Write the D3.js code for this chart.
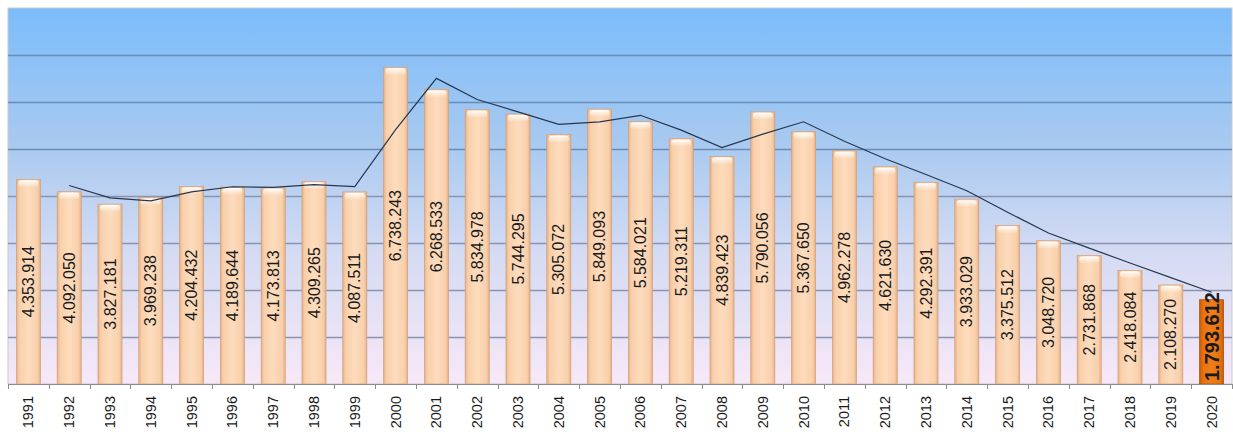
<!DOCTYPE html>
<html>
<head>
<meta charset="utf-8">
<script src="https://cdn.jsdelivr.net/npm/d3@7"></script>
<style>
  body { margin: 0; background: #fff; }
  svg { display: block; }
</style>
</head>
<body>
<script>
var width = 1233,
    height = 434;

var margin = {top: 8, right: 1, bottom: 50, left: 8};

// years on the x axis
var years = ["1991","1992","1993","1994","1995","1996","1997","1998","1999","2000",
             "2001","2002","2003","2004","2005","2006","2007","2008","2009","2010",
             "2011","2012","2013","2014","2015","2016","2017","2018","2019","2020"];

// bar values
var values = [4353914, 4092050, 3827181, 3969238, 4204432, 4189644, 4173813, 4309265, 4087511, 6738243,
              6268533, 5834978, 5744295, 5305072, 5849093, 5584021, 5219311, 4839423, 5790056, 5367650,
              4962278, 4621630, 4292391, 3933029, 3375512, 3048720, 2731868, 2418084, 2108270, 1793612];

// trend line (2-period moving average as drawn), starts at 1992
var trendYears = years.slice(1);
var trend = [4223000, 3960000, 3898000, 4087000, 4197000, 4182000, 4242000, 4198000, 5413000,
             6503000, 6052000, 5790000, 5525000, 5577000, 5717000, 5402000, 5029000, 5315000, 5579000,
             5165000, 4792000, 4457000, 4113000, 3654000, 3212000, 2890000, 2575000, 2263000, 1951000];

var gridTicks = [1000000, 2000000, 3000000, 4000000, 5000000, 6000000, 7000000];

var innerW = width - margin.left - margin.right,
    innerH = height - margin.top - margin.bottom;

var svg = d3.select("body").append("svg")
    .attr("width", width)
    .attr("height", height);

var defs = svg.append("defs");

var bg = defs.append("linearGradient").attr("id", "bg")
    .attr("x1", 0).attr("y1", 0).attr("x2", 0).attr("y2", 1);
bg.append("stop").attr("offset", "0%").attr("stop-color", "#7bbcfb");
bg.append("stop").attr("offset", "35%").attr("stop-color", "#a7c9f0");
bg.append("stop").attr("offset", "65%").attr("stop-color", "#d4dbf3");
bg.append("stop").attr("offset", "100%").attr("stop-color", "#f7e8f7");

var barGrad = defs.append("linearGradient").attr("id", "barGrad")
    .attr("x1", 0).attr("y1", 0).attr("x2", 1).attr("y2", 0);
barGrad.append("stop").attr("offset", "0%").attr("stop-color", "#e4b088");
barGrad.append("stop").attr("offset", "12%").attr("stop-color", "#f8cfaa");
barGrad.append("stop").attr("offset", "50%").attr("stop-color", "#fddcbd");
barGrad.append("stop").attr("offset", "88%").attr("stop-color", "#f8cfaa");
barGrad.append("stop").attr("offset", "100%").attr("stop-color", "#e4b088");

var hiGrad = defs.append("linearGradient").attr("id", "hiGrad")
    .attr("x1", 0).attr("y1", 0).attr("x2", 1).attr("y2", 0);
hiGrad.append("stop").attr("offset", "0%").attr("stop-color", "#c45a08");
hiGrad.append("stop").attr("offset", "15%").attr("stop-color", "#e8730f");
hiGrad.append("stop").attr("offset", "50%").attr("stop-color", "#ee7e1c");
hiGrad.append("stop").attr("offset", "85%").attr("stop-color", "#e8730f");
hiGrad.append("stop").attr("offset", "100%").attr("stop-color", "#c45a08");

var topGrad = defs.append("linearGradient").attr("id", "topGrad")
    .attr("x1", 0).attr("y1", 0).attr("x2", 0).attr("y2", 1);
topGrad.append("stop").attr("offset", "0%").attr("stop-color", "#ffffff").attr("stop-opacity", 0.95);
topGrad.append("stop").attr("offset", "100%").attr("stop-color", "#ffffff").attr("stop-opacity", 0);

var g = svg.append("g")
    .attr("transform", "translate(" + margin.left + "," + margin.top + ")");

var x = d3.scaleBand()
    .domain(years)
    .range([0, innerW])
    .paddingInner(0.41)
    .paddingOuter(0.205);

var y = d3.scaleLinear()
    .domain([0, 8000000])
    .range([innerH, 0]);

// plot background
g.append("rect")
    .attr("width", innerW)
    .attr("height", innerH)
    .attr("fill", "url(#bg)")
    .attr("stroke", "#c9c9c9");

// gridlines
g.append("g")
    .selectAll("line")
    .data(gridTicks)
    .enter().append("line")
    .attr("x1", 0)
    .attr("x2", innerW)
    .attr("y1", function(d) { return Math.round(y(d)) + 0.5; })
    .attr("y2", function(d) { return Math.round(y(d)) + 0.5; })
    .attr("stroke", function(d) { return d > 4500000 ? "#6a8cb6" : "#8a94b0"; })
    .attr("stroke-width", 1.3);

// bars
var bars = g.append("g").selectAll("g")
    .data(years)
    .enter().append("g");

bars.append("rect")
    .attr("x", function(d) { return x(d); })
    .attr("y", function(d, i) { return y(values[i]); })
    .attr("width", x.bandwidth())
    .attr("height", function(d, i) { return innerH - y(values[i]); })
    .attr("fill", function(d, i) { return i === years.length - 1 ? "url(#hiGrad)" : "url(#barGrad)"; })
    .attr("stroke", function(d, i) { return i === years.length - 1 ? "#a84d06" : "#d39f78"; })
    .attr("stroke-width", 0.7);

bars.filter(function(d, i) { return i !== years.length - 1; })
    .append("rect")
    .attr("x", function(d) { return x(d) + 2; })
    .attr("y", function(d) { return y(values[years.indexOf(d)]) + 1; })
    .attr("width", x.bandwidth() - 4)
    .attr("height", 7)
    .attr("rx", 3)
    .attr("fill", "url(#topGrad)");

// trend line
var line = d3.line()
    .x(function(d, i) { return x(trendYears[i]) + x.bandwidth() / 2; })
    .y(function(d) { return y(d); });

g.append("path")
    .datum(trend)
    .attr("fill", "none")
    .attr("stroke", "#26384f")
    .attr("stroke-width", 1.2)
    .attr("d", line);

// value labels
var fmt = function(v) { return d3.format(",")(v).replace(/,/g, "."); };

bars.append("text")
    .attr("transform", function(d, i) {
        var cx = x(d) + x.bandwidth() / 2;
        var last = i === years.length - 1;
        var cy = last ? innerH - 3 : (y(values[i]) + innerH) / 2;
        return "translate(" + cx + "," + cy + ") rotate(-90)";
    })
    .attr("dy", "0.35em")
    .attr("text-anchor", function(d, i) { return i === years.length - 1 ? "start" : "middle"; })
    .style("font-family", "'Liberation Sans', Arial, sans-serif")
    .style("font-size", function(d, i) { return i === years.length - 1 ? "20px" : "16px"; })
    .style("font-weight", function(d, i) { return i === years.length - 1 ? "bold" : "normal"; })
    .attr("fill", "#1a1a1a")
    .text(function(d, i) { return fmt(values[i]); });

// x axis
var xAxis = g.append("g")
    .attr("transform", "translate(0," + innerH + ")");

xAxis.append("line")
    .attr("x1", 0).attr("x2", innerW)
    .attr("y1", 0.5).attr("y2", 0.5)
    .attr("stroke", "#8c8c8c");

var step = x.step();
xAxis.selectAll(".tick")
    .data(d3.range(years.length + 1))
    .enter().append("line")
    .attr("x1", function(i) { return Math.round(i * step) + 0.5; })
    .attr("x2", function(i) { return Math.round(i * step) + 0.5; })
    .attr("y1", 0)
    .attr("y2", 5)
    .attr("stroke", "#8c8c8c");

xAxis.selectAll("text")
    .data(years)
    .enter().append("text")
    .attr("transform", function(d) {
        return "translate(" + (x(d) + x.bandwidth() / 2) + ",12) rotate(-90)";
    })
    .attr("dy", "0.35em")
    .attr("text-anchor", "end")
    .style("font-family", "'Liberation Sans', Arial, sans-serif")
    .style("font-size", "14.5px")
    .attr("fill", "#1a1a1a")
    .text(function(d) { return d; });
</script>
</body>
</html>
